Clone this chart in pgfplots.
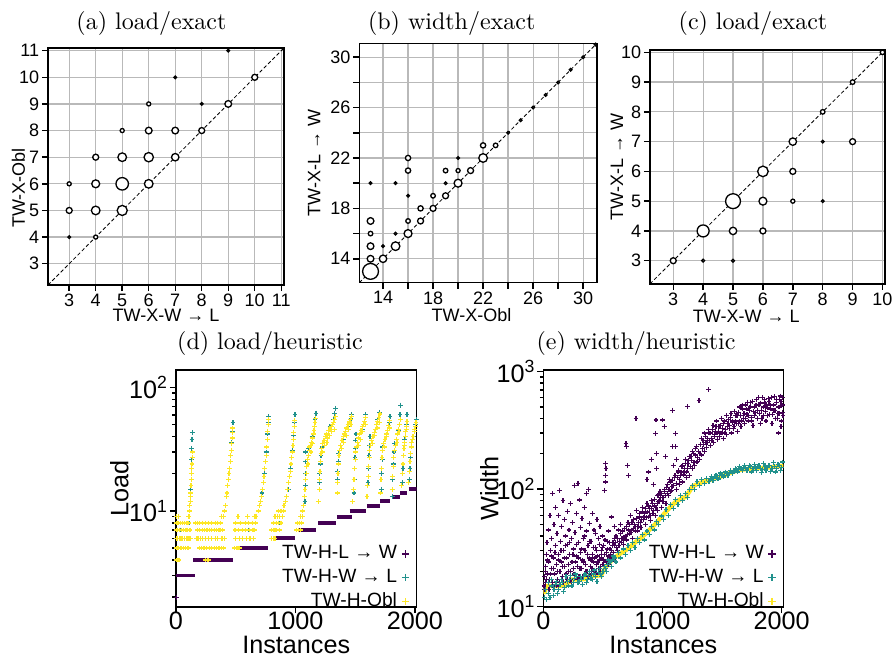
\documentclass[border=0pt]{standalone}
\usepackage{fontspec}
\usepackage{pgfplots}
\pgfplotsset{compat=1.18}
\newfontfamily\arial{Liberation Sans}

\definecolor{vpurple}{HTML}{440154}
\definecolor{vteal}{HTML}{21918C}
\definecolor{vyellow}{HTML}{FDE725}

\pgfplotsset{
  mybase/.style={
    scale only axis, anchor=south west,
    axis line style={line width=0.6pt},
    tick align=outside, tick pos=left,
    major tick length=2.5pt, minor tick length=1.5pt,
    tick style={black, line width=0.6pt},
    tick label style={inner sep=1pt},
    /pgf/number format/assume math mode=true,
    /pgf/number format/1000 sep={},
    scaled ticks=false,
  },
  mytop/.style={
    mybase,
    grid=major, grid style={gray!55, line width=0.5pt},
    tick label style={font=\arial\fontsize{7.5}{8}\selectfont},
    label style={font=\arial\fontsize{7.5}{8}\selectfont},
  },
  mybottom/.style={
    mybase,
    xmin=0, xmax=2015, xtick={0,1000,2000},
    tick label style={font=\arial\fontsize{10.5}{12}\selectfont, inner sep=0.5pt},
    xticklabel style={yshift=1.2pt},
    label style={font=\arial\fontsize{10.5}{12}\selectfont},
    xlabel={Instances},
    xlabel style={at={(axis description cs:0.5,-0.195)}, anchor=base, inner sep=0.5pt},
    legend style={at={(1,-0.055)}, anchor=south east, draw=none, fill=none,
      row sep=-1.2pt, font=\arial\fontsize{8}{9}\selectfont},
    legend cell align=right, legend plot pos=right,
  },
  bubble/.style={
    scatter, only marks, mark=*, line width=0.55pt,
    scatter/use mapped color={draw=black, fill=white},
    visualization depends on={\thisrow{r}\as\rr},
    scatter/@pre marker code/.append style={/tikz/mark size=\rr},
  },
  diag/.style={black, line width=0.35pt, dash pattern=on 1.5pt off 1pt},
  dots/.style={only marks, mark=+, mark size=1pt, line width=0.5pt, forget plot},
}

\begin{document}
\begin{tikzpicture}
\path[use as bounding box] (0,0) rectangle (372.5pt,-273.3pt);

% (a) load/exact
\begin{axis}[mytop, at={(20pt,-118.75pt)}, width=98.3pt, height=98.75pt,
  xmin=2.2, xmax=11.1, ymin=2.2, ymax=11.1,
  xtick={3,...,11}, ytick={3,...,11},
  xlabel={TW-X-W → L}, ylabel={TW-X-Obl},
  xlabel style={at={(axis description cs:0.5,-0.156)}, anchor=base},
  ylabel style={at={(axis description cs:-0.125,0.41)}, anchor=center}]
\addplot[bubble] table {
x y r
3 4 0.55
3 5 1.25
3 6 0.85
4 4 0.85
4 5 1.8
4 6 1.65
4 7 1.25
5 5 2.1
5 6 2.6
5 7 1.8
5 8 0.85
6 6 1.8
6 7 1.95
6 8 1.4
6 9 0.85
7 7 1.55
7 8 1.4
7 10 0.55
8 8 1.25
8 9 0.55
9 9 1.4
9 11 0.55
10 10 1.25
};
\addplot[diag] coordinates {(2.2,2.2) (11.1,11.1)};
\end{axis}

% (b) width/exact
\begin{axis}[mytop, at={(149.7pt,-117.8pt)}, width=99pt, height=99.75pt,
  xmin=12.1, xmax=31.1, ymin=12.1, ymax=31.1,
  xtick={14,16,...,30}, ytick={14,16,...,30},
  xticklabels={14,,18,,22,,26,,30}, yticklabels={14,,18,,22,,26,,30},
  xlabel={TW-X-Obl}, ylabel={TW-X-L → W},
  xlabel style={at={(axis description cs:0.472,-0.163)}, anchor=base},
  ylabel style={at={(axis description cs:-0.19,0.5)}, anchor=center}]
\addplot[bubble] table {
x y r
13 13 3.3
14 14 1.55
15 15 1.8
16 16 1.65
17 17 1.25
18 18 1.25
19 19 1.25
20 20 1.65
21 21 1.25
22 22 1.8
23 23 0.95
24 24 0.55
25 25 0.55
26 26 0.55
27 27 0.55
28 28 0.55
29 29 0.55
30 30 0.55
31 31 0.55
13 14 1.4
13 15 1.4
13 16 0.95
13 17 1.4
13 20 0.55
14 15 0.55
15 16 0.55
15 20 0.55
16 17 0.95
16 19 0.55
16 21 1.1
16 22 1.1
17 18 1.1
18 19 0.95
19 20 0.55
19 21 0.95
20 21 0.85
20 22 0.55
22 23 1.1
};
\addplot[diag] coordinates {(12.1,12.1) (31.1,31.1)};
\end{axis}

% (c) load/exact
\begin{axis}[mytop, at={(270.8pt,-118.3pt)}, width=97.9pt, height=97.5pt,
  xmin=2.22, xmax=10.08, ymin=2.22, ymax=10.08,
  xtick={3,...,10}, ytick={3,...,10},
  xlabel={TW-X-W → L}, ylabel={TW-X-L → W},
  xlabel style={at={(axis description cs:0.41,-0.165)}, anchor=base},
  ylabel style={at={(axis description cs:-0.14,0.5)}, anchor=center}]
\addplot[bubble] table {
x y r
3 3 1.25
4 3 0.6
5 3 0.6
4 4 2.5
5 4 1.55
6 4 1.25
5 5 3.1
6 5 1.65
7 5 0.85
8 5 0.55
6 6 2.2
7 6 1.25
7 7 1.55
8 7 0.55
9 7 1.25
8 8 0.95
9 9 0.95
10 10 0.95
};
\addplot[diag] coordinates {(2.22,2.22) (10.08,10.08)};
\end{axis}

% (d) load/heuristic
\begin{axis}[mybottom, at={(73.3pt,-253pt)}, width=100.3pt, height=98.9pt,
  ymode=log, log basis y=10,
  log number format basis/.code 2 args={#1\textsuperscript{\pgfmathprintnumber{#2}}},
  ymin=1.66, ymax=139, ylabel={Load},
  ylabel style={at={(axis description cs:-0.235,0.5)}, anchor=center}]
\addlegendimage{only marks, mark=+, mark size=1.5pt, line width=0.7pt, vpurple}
\addlegendentry{TW-H-L → W}
\addlegendimage{only marks, mark=+, mark size=1.5pt, line width=0.7pt, vteal}
\addlegendentry{TW-H-W → L}
\addlegendimage{only marks, mark=+, mark size=1.5pt, line width=0.7pt, vyellow}
\addlegendentry{TW-H-Obl}
% TW-H-L -> W: sorted staircase
\addplot[vpurple, line width=1.6pt, forget plot, unbounded coords=jump] coordinates {
(0,3) (160,3) (160,nan) (145,4) (480,4) (480,nan) (536,5) (774,5) (774,nan)
(816,6) (998,6) (998,nan) (1025,7) (1174,7) (1174,nan) (1193,8) (1339,8) (1339,nan)
(1347,9) (1473,9) (1473,nan) (1453,10) (1593,10) (1593,nan) (1598,11) (1710,11) (1710,nan)
(1710,12) (1794,12) (1794,nan) (1808,13) (1878,13) (1878,nan) (1878,14) (1934,14) (1934,nan)
(1947,15) (2015,15)};
\addplot[dots, vpurple] coordinates {(3,2)};
% TW-H-W -> L
\addplot[dots, vteal] coordinates {
(90,6) (40,7) (110,8) (120,12) (125,15) (128,20) (131,26) (133,32) (135,38) (137,43)
(330,6) (300,7) (440,18) (450,22) (458,28) (465,36) (472,44) (478,52)
(560,6) (610,7) (720,14) (740,20) (755,30) (765,42) (772,52) (775,58)
(870,8) (940,15) (960,22) (975,31) (985,41) (992,52) (996,60)
(1080,12) (1082,16) (1084,20) (1086,25) (1088,30) (1110,32) (1140,40) (1165,55) (1172,62)
(1200,17) (1205,20) (1210,24) (1215,28) (1230,33) (1290,48) (1320,55) (1330,62) (1335,68)
(1352,18) (1355,21) (1358,25) (1362,29) (1400,38) (1440,48) (1465,56) (1470,60)
(1490,14) (1493,18) (1496,22) (1499,27) (1502,32) (1505,37) (1508,42) (1560,46) (1590,60)
(1608,17) (1612,22) (1616,28) (1620,34) (1625,40) (1690,55) (1705,63)
(1718,15) (1722,20) (1726,26) (1730,33) (1760,40) (1785,52) (1792,58)
(1812,13) (1816,18) (1820,24) (1825,30) (1830,35) (1860,45) (1875,60) (1880,72)
(1895,17) (1900,22) (1905,28) (1915,38) (1930,50) (1935,60)
(1955,18) (1960,22) (1965,27) (1975,33) (1990,40) (2005,50) (2012,55)};
% TW-H-Obl
\addplot[dots, vyellow] coordinates {
(3,4) (10,4) (18,4) (26,4)
(3,5) (12,5) (22,5) (35,5) (50,5) (65,5) (80,5) (95,5) (108,5)
(3,6) (14,6) (28,6) (42,6) (58,6) (75,6) (92,6) (110,6) (125,6)
(3,7) (16,7) (32,7) (48,7) (66,7) (84,7) (100,7) (118,7)
(3,8) (18,8) (36,8) (54,8) (72,8) (90,8) (100,8) (108,8)
(6,9) (20,9) (105,9) (110,9)
(112,10) (116,11) (119,12) (122,13) (124,14) (126,16) (128,18) (130,20) (132,22) (134,24) (136,27) (138,30)
(250,4) (262,4) (275,4)
(200,5) (215,5) (235,5) (255,5) (280,5) (300,5) (320,5) (340,5) (360,5) (380,5) (400,5)
(170,6) (185,6) (205,6) (225,6) (245,6) (270,6) (295,6) (330,6) (350,6) (385,6) (405,6)
(180,7) (200,7) (220,7) (240,7) (260,7) (280,7) (300,7) (320,7) (340,7) (360,7) (375,7) (390,7)
(165,8) (180,8) (200,8) (225,8) (250,8) (275,8) (300,8) (330,8) (350,8) (370,8)
(380,9) (395,9) (405,10) (415,11) (422,13) (428,14) (434,16) (440,18) (445,20) (450,22)
(455,25) (460,28) (464,31) (468,35) (471,39) (474,43) (476,47)
(490,5) (505,5) (520,5) (530,5)
(500,6) (530,6) (560,6) (590,6) (620,6) (650,6)
(495,7) (525,7) (555,7) (585,7) (615,7) (645,7) (660,7)
(500,8) (540,8) (580,8) (610,8) (640,8) (665,8)
(520,9) (600,9) (660,9) (670,9)
(690,10) (700,11) (710,12) (718,13) (725,15) (732,17) (738,19) (744,22) (750,25)
(755,28) (760,33) (765,38) (769,44) (772,50) (774,55)
(800,6) (815,6) (830,6)
(800,7) (815,7) (830,7) (845,7) (870,7)
(820,8) (840,8) (860,8) (880,8)
(830,9) (850,9) (870,9) (890,9)
(860,10) (880,10) (900,10)
(905,11) (915,12) (925,13) (935,15) (945,17) (952,19) (958,21) (964,24) (970,27)
(975,30) (980,34) (984,38) (987,43) (990,48) (993,54)
(1010,7) (1025,7) (1040,7) (1015,8) (1035,8) (1050,8) (1045,9) (1060,9)
(1060,10) (1070,11) (1075,13) (1080,15) (1085,18) (1090,20) (1095,23) (1100,26) (1105,24)
(1110,28) (1115,33) (1120,31) (1125,34) (1130,30) (1135,36) (1140,39) (1145,35) (1150,42)
(1155,45) (1160,48) (1165,52) (1170,56)
(1195,12) (1200,15) (1203,18) (1206,21) (1210,25) (1215,29) (1220,32) (1225,30) (1230,35)
(1240,37) (1245,34) (1250,40) (1260,42) (1265,36) (1270,39) (1280,45) (1285,41) (1290,47)
(1300,44) (1305,48) (1310,50) (1320,52) (1325,46) (1330,55) (1335,58)
(1350,14) (1353,17) (1356,20) (1360,24) (1365,28) (1370,31) (1380,34) (1385,32) (1390,37)
(1400,40) (1405,36) (1410,42) (1420,44) (1425,41) (1430,47) (1440,50) (1445,46) (1450,53)
(1460,55) (1465,50) (1470,58)
(1480,12) (1485,15) (1490,18) (1495,22) (1500,26) (1505,30) (1510,33) (1520,36) (1525,34)
(1530,39) (1540,42) (1545,38) (1550,45) (1560,48) (1565,44) (1570,50) (1580,53) (1585,50) (1590,57)
(1600,13) (1605,16) (1610,19) (1614,23) (1618,27) (1622,31) (1630,34) (1640,37) (1645,35)
(1650,40) (1660,43) (1665,41) (1670,46) (1680,50) (1685,47) (1690,53) (1700,57) (1702,52) (1708,61)
(1712,14) (1716,18) (1720,22) (1725,27) (1730,31) (1740,35) (1745,33) (1750,38) (1760,42)
(1765,40) (1770,45) (1780,49) (1785,47) (1790,54)
(1810,15) (1814,19) (1818,23) (1822,27) (1828,31) (1835,34) (1845,38) (1850,36) (1855,42)
(1865,46) (1868,44) (1872,50) (1878,55)
(1890,16) (1895,20) (1900,24) (1905,28) (1910,32) (1912,34) (1915,36) (1920,40) (1925,44)
(1928,46) (1930,48) (1934,53)
(1950,17) (1955,21) (1960,25) (1965,29) (1970,33) (1975,36) (1980,38) (1985,40) (1995,44)
(2000,46) (2005,48) (2010,52)};
\end{axis}

% (e) width/heuristic
\begin{axis}[mybottom, at={(226.4pt,-253pt)}, width=100pt, height=98.9pt,
  ymode=log, log basis y=10,
  log number format basis/.code 2 args={#1\textsuperscript{\pgfmathprintnumber{#2}}},
  ymin=9.9, ymax=1035, ylabel={Width},
  ylabel style={at={(axis description cs:-0.225,0.5)}, anchor=center}]
\addlegendimage{only marks, mark=+, mark size=1.5pt, line width=0.7pt, vpurple}
\addlegendentry{TW-H-L → W}
\addlegendimage{only marks, mark=+, mark size=1.5pt, line width=0.7pt, vteal}
\addlegendentry{TW-H-W → L}
\addlegendimage{only marks, mark=+, mark size=1.5pt, line width=0.7pt, vyellow}
\addlegendentry{TW-H-Obl}
% TW-H-L -> W
\addplot[dots, vpurple] coordinates {
(5,15) (10,18) (15,22) (20,16) (25,28) (30,35) (35,19) (40,45) (45,24) (50,17)
(55,60) (60,30) (65,21) (70,38) (75,16) (80,92) (85,26) (90,50) (95,19) (100,33)
(105,70) (110,23) (115,42) (120,17) (125,28) (130,60) (135,98) (140,20) (145,36) (150,24)
(155,48) (160,18) (165,80) (170,30) (175,22) (180,55) (185,40) (190,19) (195,26) (200,65)
(205,34) (210,20) (215,45) (220,28) (225,75) (230,17) (235,38) (240,24) (245,52) (250,21)
(255,31) (260,108) (265,43) (270,19) (275,27) (280,62) (285,22) (290,112) (295,35) (300,18)
(305,81) (310,29) (315,47) (320,21) (325,56) (330,25) (335,38) (340,18) (345,70) (350,30)
(355,23) (360,92) (365,44) (370,20) (375,33) (380,100) (385,26) (390,51) (395,22) (400,36)
(405,19) (410,62) (415,28) (420,24) (425,45) (430,20) (435,32) (440,42) (445,23) (450,55)
(455,27) (460,21) (465,38) (470,25) (475,48) (480,22) (485,30) (490,26) (495,40) (500,23)
(505,33) (510,28) (515,98) (520,166) (522,130) (524,115) (526,150) (530,29) (535,24) (540,36)
(545,27) (550,44) (555,26) (560,31) (565,28) (570,58) (575,30) (580,27) (585,35) (590,29) (595,48)
(8,14) (18,20) (28,17) (38,25) (48,14) (58,19) (68,27) (78,15) (88,21) (98,29)
(108,15) (118,20) (128,25) (138,16) (148,30) (158,22) (168,16) (178,26) (188,33) (198,17)
(208,23) (218,35) (228,20) (238,16) (248,28) (258,19) (268,24) (278,34) (288,17) (298,26)
(308,21) (318,31) (328,18) (338,24) (348,40) (358,20) (368,28) (378,18) (388,36) (398,25)
(408,21) (418,32) (428,26) (438,19) (448,30) (458,24) (468,34) (478,20) (488,28) (498,32)
(508,25) (518,37) (528,24) (538,31) (548,23) (558,35) (568,26) (578,33) (588,25) (598,38)
(600,33) (610,40) (620,30) (630,45) (640,36) (650,50) (660,38) (670,34) (680,46) (690,40)
(694,245) (696,230) (700,37) (705,160) (710,52) (715,130) (720,42) (730,60) (740,45) (750,38)
(760,55) (770,48) (778,401) (780,66) (790,44) (800,52) (810,58) (820,47) (830,70) (840,55)
(850,62) (860,50) (870,75) (870,120) (880,58) (885,140) (890,68) (900,54) (905,180) (910,80)
(920,62) (925,110) (930,72) (940,60) (944,299) (946,388) (948,200) (950,150) (955,88) (960,66)
(970,78) (980,95) (990,70) (1000,388) (1005,85) (1014,340) (1020,100) (1028,190) (1030,75) (1040,110)
(1050,88) (1060,120) (1070,95) (1080,105) (1083,470) (1085,230) (1090,160) (1100,125) (1111,299) (1112,230)
(1115,180) (1120,100) (1130,140) (1140,110) (1150,130) (1160,155) (1170,115) (1180,140) (1190,165) (1200,125)
(1208,505) (1210,150) (1220,175) (1230,130) (1240,190) (1250,150) (1260,200) (1270,160) (1280,220) (1290,170)
(605,35) (615,32) (625,38) (635,33) (645,42) (655,35) (665,44) (675,37) (685,39) (695,48)
(705,41) (715,45) (725,50) (735,43) (745,52) (755,46) (765,50) (775,44) (785,56) (795,48)
(805,62) (815,52) (825,55) (835,64) (845,58) (855,68) (865,57) (875,64) (885,72) (895,60)
(905,68) (915,75) (925,66) (935,82) (945,70) (955,76) (965,90) (975,80) (985,85) (995,92)
(1005,78) (1015,96) (1025,88) (1035,104) (1045,92) (1055,100) (1065,115) (1075,98) (1085,118) (1095,108)
(1105,130) (1115,112) (1125,125) (1135,145) (1145,120) (1155,140) (1165,160) (1175,132) (1185,150) (1195,178)
(1205,140) (1215,165) (1225,190) (1235,155) (1245,175) (1255,210) (1265,168) (1275,195) (1285,230) (1295,185)
(1300,210) (1306,570) (1310,180) (1320,240) (1330,195) (1340,260) (1350,210) (1360,280) (1370,225) (1380,250)
(1389,700) (1390,300) (1400,235) (1410,270) (1420,320) (1430,250) (1440,290) (1450,340) (1460,265) (1470,310)
(1480,280) (1490,350) (1500,300) (1510,270) (1520,380) (1530,320) (1540,290) (1550,360) (1560,330) (1570,410)
(1580,300) (1590,370) (1600,340) (1610,420) (1620,360) (1630,310) (1640,450) (1650,380) (1660,340) (1670,480)
(1680,400) (1690,360) (1700,520) (1710,430) (1720,380) (1730,470) (1740,550) (1750,410) (1760,350) (1770,500)
(1780,450) (1790,580) (1800,400) (1810,520) (1820,360) (1830,470) (1840,600) (1850,420) (1860,540) (1870,380)
(1880,490) (1890,590) (1900,430) (1910,520) (1920,360) (1930,470) (1940,610) (1950,400) (1960,550) (1970,440)
(1975,300) (1980,500) (1985,580) (1990,620) (1995,340) (2000,380) (2005,450) (2010,520)
(1315,200) (1325,270) (1335,220) (1345,240) (1355,300) (1365,250) (1375,270) (1385,320) (1395,260) (1405,300)
(1415,260) (1425,350) (1435,280) (1445,310) (1455,380) (1465,300) (1475,340) (1485,300) (1495,400) (1505,330)
(1515,360) (1525,300) (1535,420) (1545,340) (1555,390) (1565,350) (1575,440) (1585,380) (1595,330) (1605,460)
(1615,380) (1625,420) (1635,360) (1645,500) (1655,420) (1665,380) (1675,520) (1685,440) (1695,400) (1705,480)
(1715,550) (1725,420) (1735,500) (1745,380) (1755,560) (1765,460) (1775,420) (1785,520) (1795,470) (1805,600)
(1815,440) (1825,540) (1835,400) (1845,500) (1855,580) (1865,460) (1875,520) (1885,420) (1895,560) (1905,480)
(1915,600) (1925,430) (1935,520) (1945,470) (1955,580) (1965,400) (1975,500) (1985,440) (1995,560) (2005,600) (2012,420)};
% TW-H-W -> L
\addplot[dots, vteal] coordinates {
(10,12) (25,11.5) (40,16) (55,12) (70,17) (90,14) (110,16.5) (130,14) (150,17) (170,13.5)
(190,18) (210,15) (230,18.5) (250,16) (270,19) (290,16) (310,18) (330,15.5) (350,19) (370,17)
(390,20) (410,17) (430,20.5) (450,16.5) (470,21) (490,18) (510,22) (530,20) (550,25) (570,22)
(590,27) (610,24) (630,29) (650,26) (670,31) (690,28) (710,33) (730,30) (750,35) (770,32)
(790,38) (810,35) (830,41) (850,37) (870,44) (890,41) (910,48) (930,45) (950,53) (970,50)
(990,59) (1010,55) (1030,67) (1050,60) (1070,74) (1090,68) (1110,82) (1130,74) (1150,88) (1170,80)
(1190,92) (1210,85) (1230,99) (1250,108) (1270,100) (1290,116) (1310,107) (1330,120) (1350,112) (1370,124)
(1390,116) (1410,128) (1430,118) (1450,132) (1470,122) (1490,137) (1510,127) (1530,140) (1550,131) (1570,145)
(1590,135) (1610,150) (1630,140) (1650,155) (1670,143) (1690,158) (1710,145) (1730,160) (1750,140) (1770,162)
(1790,145) (1810,158) (1830,138) (1850,165) (1870,145) (1890,160) (1910,142) (1930,168) (1950,140) (1970,162)
(1990,145) (2010,170)
(20,14) (45,13) (65,15) (85,12.5) (100,15.5) (120,13) (140,15.5) (160,16) (180,14.5) (200,16.5)
(220,17) (240,15) (260,17.5) (280,18) (300,16.5) (320,17) (340,18) (360,16) (380,18.5) (400,17.5)
(420,19) (440,18) (460,19.5) (480,19) (500,20) (520,21) (540,23) (560,24) (580,25) (600,26)
(1400,122) (1420,118) (1440,127) (1460,124) (1480,130) (1500,132) (1520,130) (1540,136) (1560,138) (1580,140)
(1600,142) (1620,146) (1640,148) (1660,150) (1680,152) (1700,150) (1720,152) (1740,155) (1760,150) (1780,153)
(1800,155) (1820,150) (1840,148) (1860,155) (1880,152) (1900,158) (1920,150) (1940,155) (1960,150) (1980,158) (2000,152)};
% TW-H-Obl
\addplot[vyellow, line width=1.8pt, forget plot] coordinates {
(0,13) (14,13.5) (20,15) (180,15) (182,15.8) (222,16.2) (230,17) (360,17.2) (370,18) (486,18.5)
(500,19.8) (528,22) (560,24) (611,26.7) (650,28.5) (694,30.3) (740,33) (778,35.7) (820,38.5)
(861,42) (900,46) (944,51) (985,57) (1028,64) (1070,71) (1111,78) (1150,82) (1194,86) (1225,95)
(1250,105) (1280,109) (1306,112) (1360,117) (1417,121) (1470,126) (1528,132) (1580,139) (1639,145)
(1700,148) (1750,150) (1800,151) (1861,152) (1920,154) (1986,157) (2015,158)};
\end{axis}

% subfigure captions
\node at (63.1pt,-9.6pt) {(a) load/exact};
\node at (188.2pt,-9.6pt) {(b) width/exact};
\node at (313.75pt,-9.6pt) {(c) load/exact};
\node at (112.5pt,-143.3pt) {(d) load/heuristic};
\node at (265pt,-143.3pt) {(e) width/heuristic};
\end{tikzpicture}
\end{document}
